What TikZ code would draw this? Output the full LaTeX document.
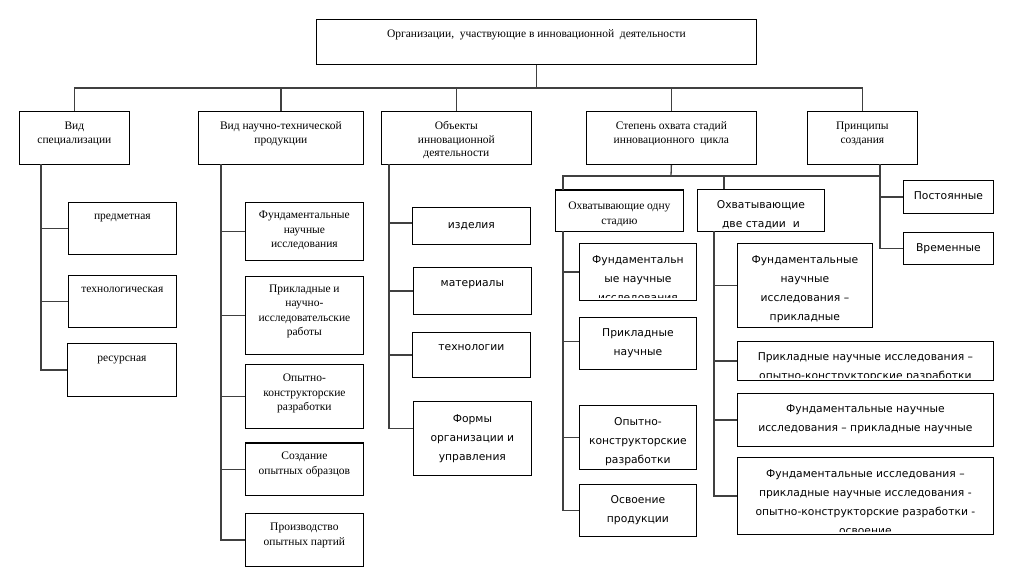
\documentclass[tikz,border=0pt]{standalone}
\usepackage{fontspec}
\setmainfont{Liberation Serif}
\newfontfamily\sansf{DejaVu Sans}
\tikzset{
 box/.style={draw=black, line width=0.8pt, fill=white, inner sep=0pt, anchor=north west},
 conn/.style={draw=black!75, line width=1.3pt},
 ser/.style={font=\fontsize{11.5}{14.4}\selectfont, align=center, anchor=north, inner sep=0pt, yshift=-1.8pt},
 serh/.style={font=\fontsize{11.5}{13.5}\selectfont, align=center, anchor=north, inner sep=0pt, yshift=-1.8pt},
 san/.style={font=\sansf\fontsize{10.75}{19}\selectfont, align=center, anchor=north, inner sep=0pt, yshift=-1.6pt},
 thicktop/.style={line width=2pt},
}
\newcommand\bx[7]{%
 \pgfmathsetmacro\bw{#4-#2}\pgfmathsetmacro\bh{#5-#3}%
 \node[box, minimum width=\bw pt, minimum height=\bh pt] (#1) at (#2,#3) {};
 \begin{scope}
 \clip (#1.north west) rectangle ([yshift=3.5pt]#1.south east);
 \node[#6] (#1t) at (#1.north) {\strut#7};
 \end{scope}}
\begin{document}
\begin{tikzpicture}[x=1pt,y=-1pt]
\useasboundingbox[fill=white] (0,0) rectangle (1015,571);
% top
\bx{top}{316}{19}{756}{64}{ser,yshift=-6.85pt}{Организации,\ \ участвующие в инновационной\ \ деятельности}
% level 1
\bx{b1}{19}{111}{129}{164}{serh,yshift=-7.2pt}{Вид\\специализации}
\bx{b2}{198}{111}{363}{164}{serh,yshift=-7.2pt}{Вид научно-технической\\продукции}
\bx{b3}{381}{111}{531}{164}{serh,yshift=-7.2pt}{Объекты\\инновационной\\деятельности}
\bx{b4}{586}{111}{756}{164}{serh,yshift=-7.2pt}{Степень охвата стадий\\инновационного\ \ цикла}
\bx{b5}{807}{111}{917}{164}{serh,yshift=-7.2pt}{Принципы\\создания}
% column 1
\bx{c1a}{68}{202}{176}{254}{ser,yshift=-5.85pt}{предметная}
\bx{c1b}{68}{275}{176}{327}{ser,yshift=-5.85pt}{технологическая}
\bx{c1c}{67}{343}{176}{396}{ser,yshift=-6.1pt}{ресурсная}
% column 2
\bx{c2a}{245}{202}{363}{260}{ser,yshift=-4.9pt}{Фундаментальные\\научные\\исследования}
\bx{c2b}{245}{276}{363}{354}{ser,yshift=-4.2pt}{Прикладные и\\научно-\\исследовательские\\работы}
\bx{c2c}{245}{364}{363}{428}{ser,yshift=-5.55pt}{Опытно-\\конструкторские\\разработки}
\bx{c2d}{245}{443}{363}{495}{ser,yshift=-4.85pt}{Создание\\опытных образцов}
\bx{c2e}{245}{513}{363}{566}{ser,yshift=-5.85pt}{Производство\\опытных партий}
% column 3
\bx{c3a}{412}{207}{530}{244}{san,yshift=-6pt}{изделия}
\bx{c3b}{413}{267}{531}{314}{san,yshift=-4.8pt}{материалы}
\bx{c3c}{412}{332}{530}{377}{san,yshift=-3.5pt}{технологии}
\bx{c3d}{413}{401}{531}{475}{san,yshift=-6.5pt}{Формы\\организации и\\управления}
% stage coverage
\bx{one}{555}{190}{683}{231}{ser,font=\fontsize{11.5}{15.3}\selectfont,yshift=-6.6pt}{Охватывающие одну\\стадию}
\bx{two}{697}{189}{824}{231}{san,yshift=-4.6pt}{Охватывающие\\две стадии\ \ и}
\bx{perm}{903}{180}{993}{213}{san,yshift=-4pt}{Постоянные}
\bx{temp}{903}{232}{993}{264}{san,yshift=-4.2pt}{Временные}
\bx{c4a}{579}{243}{696}{300}{san,yshift=-5.6pt}{Фундаментальн\\ые научные\\исследования}
\bx{c4b}{579}{317}{696}{369}{san,yshift=-4.1pt}{Прикладные\\научные}
\bx{c4c}{579}{405}{696}{469}{san,yshift=-5.4pt}{Опытно-\\конструкторские\\разработки}
\bx{c4d}{579}{484}{696}{536}{san,yshift=-4.8pt}{Освоение\\продукции}
\bx{c5a}{737}{243}{872}{327}{san,yshift=-5.3pt}{Фундаментальные\\научные\\исследования –\\прикладные}
\bx{c5b}{737}{341}{993}{380}{san,yshift=-4.8pt}{Прикладные научные исследования –\\опытно-конструкторские разработки}
\bx{c5c}{737}{393}{993}{446}{san,yshift=-4.3pt}{Фундаментальные научные\\исследования – прикладные научные}
\bx{c5d}{737}{457}{993}{534}{san,yshift=-5.3pt}{Фундаментальные исследования –\\прикладные научные исследования -\\опытно-конструкторские разработки -\\освоение}
\draw[thicktop] (c2d.north west) -- (c2d.north east);
\draw[thicktop] (one.north west) -- (one.north east);
% connectors: top bus
\coordinate (jt) at (535,88);
\draw[conn] (top.south) -- (top.south |- jt);
\draw[conn] (b1.north) -- (b1.north |- jt) -- (b5.north |- jt) -- (b5.north);
\draw[conn] (b2.north) -- (b2.north |- jt);
\draw[conn] (b3.north) -- (b3.north |- jt);
\draw[conn] (b4.north) -- (b4.north |- jt);
% column 1
\coordinate (s1) at (41,164);
\draw[conn] (s1) |- (c1a.west);
\draw[conn] (s1) |- (c1b.west);
\draw[conn] (s1) |- (c1c.west);
% column 2
\coordinate (s2) at (221,164);
\draw[conn] (s2) |- (c2a.west);
\draw[conn] (s2) |- (c2b.west);
\draw[conn] (s2) |- (c2c.west);
\draw[conn] (s2) |- (c2d.west);
\draw[conn] (s2) |- (c2e.west);
% column 3
\coordinate (s3) at (389,164);
\draw[conn] (s3) |- ([yshift=3pt]c3a.west);
\draw[conn] (s3) |- (c3b.west);
\draw[conn] (s3) |- (c3c.west);
\draw[conn] (s3) |- ([yshift=10pt]c3d.west);
% stage coverage and principles
\coordinate (j4) at (671,176);
\coordinate (s5) at (880,164);
\coordinate (o1) at (563,190);
\coordinate (o2) at (724,189);
\draw[conn] (b4.south) -- (j4);
\draw[conn] (o1) |- (j4) -- (s5 |- j4);
\draw[conn] (o2) -- (o2 |- j4);
\draw[conn] (s5) |- (perm.west);
\draw[conn] (s5) |- (temp.west);
\coordinate (s6) at (563,231);
\draw[conn] (s6) |- (c4a.west);
\draw[conn] (s6) |- ([yshift=2pt]c4b.west);
\draw[conn] (s6) |- (c4c.west);
\draw[conn] (s6) |- (c4d.west);
\coordinate (s7) at (714,231);
\draw[conn] (s7) |- (c5a.west);
\draw[conn] (s7) |- (c5b.west);
\draw[conn] (s7) |- (c5c.west);
\draw[conn] (s7) |- (c5d.west);
\end{tikzpicture}
\end{document}
